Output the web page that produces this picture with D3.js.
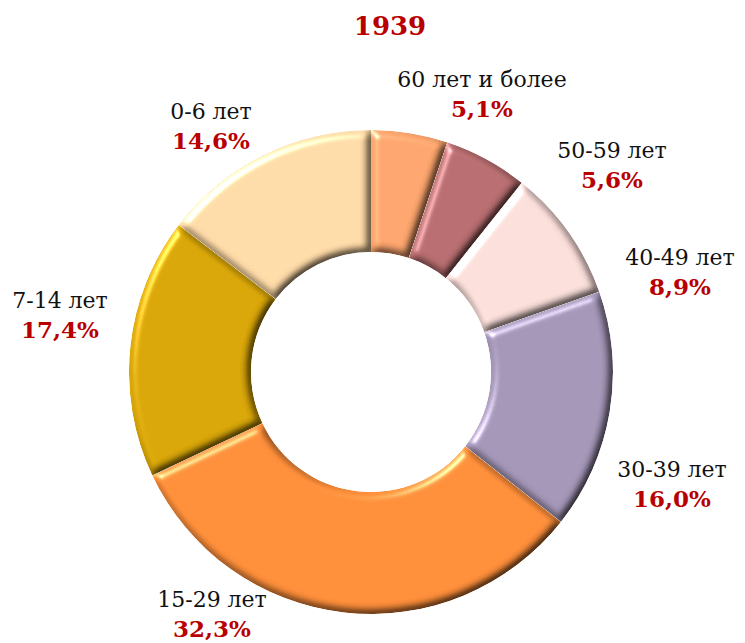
<!DOCTYPE html>
<html>
<head>
<meta charset="utf-8">
<script src="https://cdn.jsdelivr.net/npm/d3@7"></script>
<style>
  body { margin: 0; background: #fff; }
  svg { display: block; }
</style>
</head>
<body>
<svg id="chart" width="745" height="643"></svg>
<script>
const title = "1939";
const groups = ["60 лет и более", "50-59 лет", "40-49 лет", "30-39 лет", "15-29 лет", "7-14 лет", "0-6 лет"];
const shares = [5.1, 5.6, 8.9, 16.0, 32.3, 17.4, 14.6];
const colors = ["#FAA36C", "#B66C6E", "#F8DCD8", "#A294B5", "#FC8D39", "#D6A407", "#FDD9A6"];
// label anchor points (center x, name baseline y)
const labelPos = [[482, 87], [612, 158], [680, 265], [672, 477], [212, 607], [60, 308], [211, 119]];

const width = 745, height = 643;
const cx = 371, cy = 372;
const outerR = 242, innerR = 120;

const svg = d3.select("#chart");

// bevel look: diffuse shading of the blurred alpha plus a soft highlight
const defs = svg.append("defs");
const f = defs.append("filter")
  .attr("id", "bevel")
  .attr("color-interpolation-filters", "sRGB")
  .attr("x", "-10%").attr("y", "-10%")
  .attr("width", "120%").attr("height", "120%");
f.append("feGaussianBlur").attr("in", "SourceAlpha").attr("stdDeviation", 4.5).attr("result", "blur");
f.append("feDiffuseLighting")
  .attr("in", "blur").attr("surfaceScale", 5).attr("diffuseConstant", 1.1547)
  .attr("lighting-color", "#fff").attr("result", "diff")
  .append("feDistantLight").attr("azimuth", 225).attr("elevation", 60);
f.append("feSpecularLighting")
  .attr("in", "blur").attr("surfaceScale", 5).attr("specularConstant", 0.8)
  .attr("specularExponent", 30).attr("lighting-color", "#fff").attr("result", "spec")
  .append("feDistantLight").attr("azimuth", 225).attr("elevation", 35);
f.append("feComposite").attr("in", "SourceGraphic").attr("in2", "diff")
  .attr("operator", "arithmetic").attr("k1", 1).attr("k2", 0).attr("k3", 0).attr("k4", 0)
  .attr("result", "lit");
f.append("feComposite").attr("in", "spec").attr("in2", "SourceAlpha")
  .attr("operator", "in").attr("result", "specIn");
f.append("feComposite").attr("in", "lit").attr("in2", "specIn")
  .attr("operator", "arithmetic").attr("k1", 0).attr("k2", 1).attr("k3", 0.6).attr("k4", 0)
  .attr("result", "bev");
f.append("feComposite").attr("in", "bev").attr("in2", "SourceAlpha").attr("operator", "in");

const pie = d3.pie().sort(null).value(d => d);
const arc = d3.arc().innerRadius(innerR).outerRadius(outerR);

const g = svg.append("g").attr("transform", `translate(${cx},${cy})`);

g.selectAll("path")
  .data(pie(shares))
  .enter()
  .append("path")
  .attr("d", arc)
  .attr("fill", (d, i) => colors[i])
  .attr("filter", "url(#bevel)");

svg.append("text")
  .attr("x", 390).attr("y", 35)
  .attr("text-anchor", "middle")
  .attr("font-family", "DejaVu Serif")
  .attr("font-weight", "bold")
  .attr("font-size", 26)
  .attr("fill", "#B80000")
  .text(title);

const labels = svg.selectAll("g.lbl")
  .data(groups)
  .enter()
  .append("g")
  .attr("class", "lbl")
  .attr("transform", (d, i) => `translate(${labelPos[i][0]},${labelPos[i][1]})`);

labels.append("text")
  .attr("text-anchor", "middle")
  .attr("font-family", "DejaVu Serif")
  .attr("font-size", 22)
  .attr("fill", "#111")
  .text(d => d);

labels.append("text")
  .attr("y", 30)
  .attr("text-anchor", "middle")
  .attr("font-family", "DejaVu Serif")
  .attr("font-weight", "bold")
  .attr("font-size", 23)
  .attr("fill", "#B80000")
  .text((d, i) => shares[i].toFixed(1).replace(".", ",") + "%");
</script>
</body>
</html>
